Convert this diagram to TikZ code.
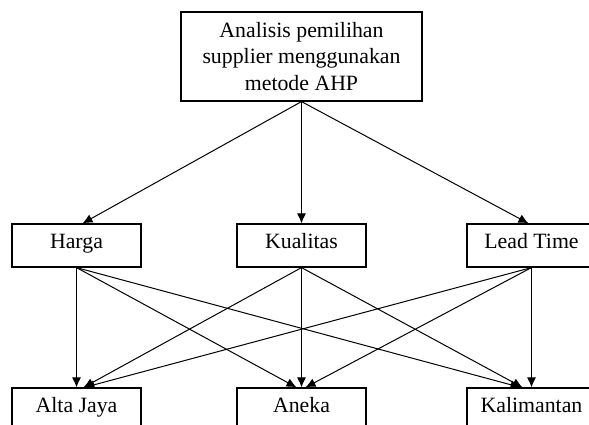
\documentclass[tikz,border=0pt]{standalone}
\usepackage{fontspec}
\setmainfont{Liberation Serif}
\usetikzlibrary{arrows.meta}
\begin{document}
\begin{tikzpicture}[x=1pt,y=1pt,
  box/.style={draw, line width=1.2pt, minimum width=129pt, minimum height=43pt, inner sep=0pt, font=\fontsize{21.8}{26.5}\selectfont, align=center, text height=12pt, text depth=5pt},
  topbox/.style={draw, line width=1.2pt, minimum width=241pt, minimum height=89pt, inner sep=0pt, font=\fontsize{21.8}{26.5}\selectfont, align=center},
  arr/.style={line width=1pt, -{Latex[length=10pt,width=9pt]}}]
\useasboundingbox (0,0) rectangle (589,425);
\clip (0,0) rectangle (589,425);
\fill[white] (0,0) rectangle (589,425);
\node[topbox] (top) at (301.5,368.5) {Analisis pemilihan\\supplier menggunakan\\metode AHP};
\node[box] (harga) at (76.5,179.5) {Harga};
\node[box] (kual) at (301.5,179.5) {Kualitas};
\node[box] (lead) at (531.5,179.5) {Lead Time};
\node[box] (alta) at (76.5,15.5) {Alta Jaya};
\node[box] (aneka) at (301.5,15.5) {Aneka};
\node[box] (kali) at (531.5,15.5) {Kalimantan};
\draw[arr] (top.south) -- ([xshift=6pt]harga.north);
\draw[arr] (top.south) -- (kual.north);
\draw[arr] (top.south) -- ([xshift=-3pt]lead.north);
\draw[arr] (harga.south) -- (alta.north);
\draw[arr] (harga.south) -- ([xshift=-5pt]aneka.north);
\draw[arr] (harga.south) -- ([xshift=-11pt]kali.north);
\draw[arr] (kual.south) -- ([xshift=7pt]alta.north);
\draw[arr] (kual.south) -- (aneka.north);
\draw[arr] (kual.south) -- ([xshift=-9pt]kali.north);
\draw[arr] (lead.south) -- ([xshift=8pt]alta.north);
\draw[arr] (lead.south) -- ([xshift=4pt]aneka.north);
\draw[arr] (lead.south) -- (kali.north);
\end{tikzpicture}
\end{document}
